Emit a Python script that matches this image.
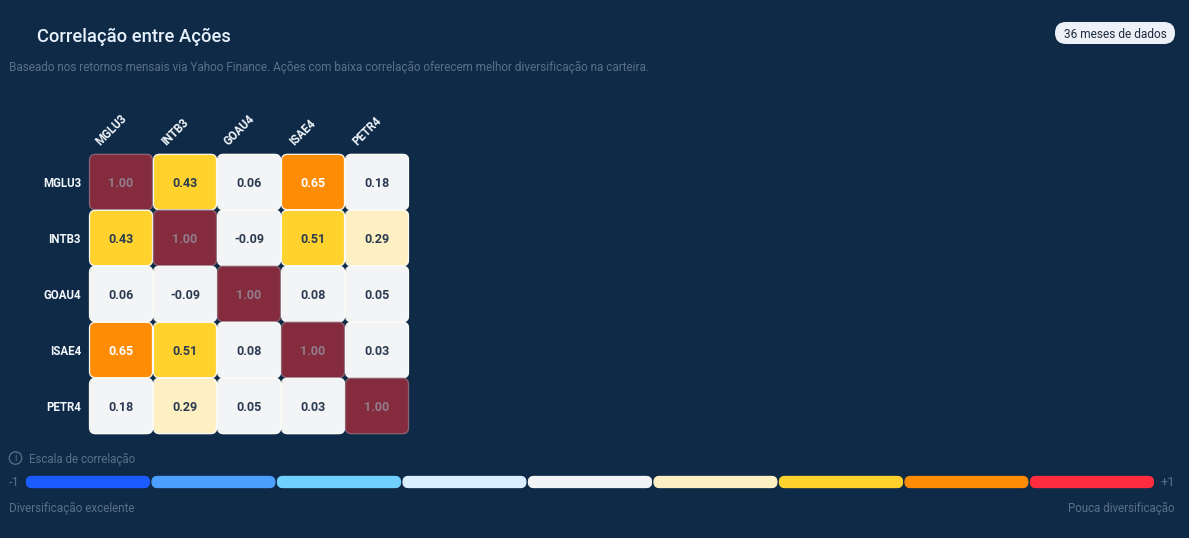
import numpy as np, pandas as pd, seaborn as sns
import matplotlib
matplotlib.use("Agg")
import matplotlib.pyplot as plt
import matplotlib.patches as mp
from matplotlib.colors import ListedColormap, BoundaryNorm
from matplotlib.path import Path
from matplotlib.transforms import ScaledTranslation

tickers = ["MGLU3", "INTB3", "GOAU4", "ISAE4", "PETR4"]
row_mglu3 = [1.00, 0.43, 0.06, 0.65, 0.18]
row_intb3 = [0.43, 1.00, -0.09, 0.51, 0.29]
row_goau4 = [0.06, -0.09, 1.00, 0.08, 0.05]
row_isae4 = [0.65, 0.51, 0.08, 1.00, 0.03]
row_petr4 = [0.18, 0.29, 0.05, 0.03, 1.00]
scale_colors = ["#1a5cff", "#4d9fff", "#70d0ff", "#d9efff", "#f3f4f6",
                "#fff0c4", "#ffd22e", "#ff8c05", "#ff2d3d"]
scale_bounds = [-1, -0.7, -0.5, -0.3, -0.1, 0.2, 0.4, 0.6, 0.8, 1.0001]
diag_color = "#852b3e"

BG = "#0f2a47"
W, H = 1189, 538
sns.set_theme(style="white")
plt.rcParams["font.family"] = ["Roboto", "DejaVu Sans"]
fig = plt.figure(figsize=(W / 100, H / 100), dpi=100, facecolor=BG)

def px_axes(x0, y0, x1, y1, **kw):
    return fig.add_axes([x0 / W, 1 - y1 / H, (x1 - x0) / W, (y1 - y0) / H], **kw)

# Overlay in pixel coordinates, for outlines and captions
ov = px_axes(0, 0, W, H, facecolor="none", zorder=5)
ov.set_xlim(0, W); ov.set_ylim(H, 0); ov.axis("off")

def rrect(x, y, w, h, r):
    return mp.FancyBboxPatch((x + r, y + r), w - 2 * r, h - 2 * r,
                             boxstyle=f"round,pad={r},rounding_size={r}")

# Heatmap
corr = pd.DataFrame([row_mglu3, row_intb3, row_goau4, row_isae4, row_petr4],
                    index=tickers, columns=tickers)
cmap = ListedColormap(scale_colors[:-1] + [diag_color])
norm = BoundaryNorm(scale_bounds, cmap.N)
ax = px_axes(89, 154, 409, 434)
sns.heatmap(corr, ax=ax, cmap=cmap, norm=norm, cbar=False, annot=False)
ax.set_facecolor(BG)
ax.tick_params(length=0)
ax.xaxis.tick_top()
ax.set_xticklabels(tickers, rotation=45, ha="center", va="bottom",
                   fontsize=8.3, fontweight="bold", color="#f2f7fc")
ax.tick_params(axis="x", pad=4.3)
shift = ScaledTranslation(-10 / 100, 0, fig.dpi_scale_trans)
for lab in ax.get_xticklabels():
    lab.set_transform(lab.get_transform() + shift)
ax.set_yticklabels(tickers, rotation=0, fontsize=8.3, fontweight="bold", color="#f2f7fc")
ax.tick_params(axis="y", pad=5.8)
for lab in ax.get_yticklabels():
    lab.set_transform(lab.get_transform() + ScaledTranslation(0, -1.5 / 100, fig.dpi_scale_trans))
ax.set_xlabel(""); ax.set_ylabel("")
for s in ax.spines.values():
    s.set_visible(False)

CW, CH = 64, 56
paths = []
for j, t in enumerate(tickers):
    for i, u in enumerate(tickers):
        x, y = 89 + i * CW, 154 + j * CH
        p = rrect(x + 0.5, y + 0.3, CW - 1, CH - 0.6, 6)
        paths.append(p.get_path())
        v = corr.iloc[j, i]
        diag = i == j
        p.set(facecolor="none", edgecolor="#8b6475" if diag else "#fbfbf6", linewidth=0.9)
        ov.add_patch(p)
        tc = "#927d8f" if diag else ("#ffffff" if v >= 0.6 else "#2a3a50")
        ov.text(x + CW / 2, y + CH / 2 + 1.2, f"{v:.2f}", ha="center", va="center",
                fontsize=9, fontweight="bold", color=tc)
ax.collections[0].set_clip_path(Path.make_compound_path(*paths), ov.transData)

# Correlation scale, one cell per colour
sx0, sx1, sy0, sy1 = 26, 1155.5, 476, 488
sax = px_axes(sx0, sy0, sx1, sy1)
idx = np.arange(len(scale_colors))[None, :]
sns.heatmap(idx, ax=sax, cmap=ListedColormap(scale_colors), cbar=False,
            xticklabels=False, yticklabels=False)
sax.set_facecolor(BG)
sw = (sx1 - sx0) / len(scale_colors)
spaths = []
for k, c in enumerate(scale_colors):
    p = rrect(sx0 + k * sw + 0.4, sy0 + 0.4, sw - 2.4, sy1 - sy0 - 0.8, 5.6)
    spaths.append(p.get_path())
    p.set(facecolor="none", edgecolor=c, linewidth=0.8)
    ov.add_patch(p)
sax.collections[0].set_clip_path(Path.make_compound_path(*spaths), ov.transData)

# Captions
MUTED = "#5a7089"
ov.text(37, 37, "Correlação entre Ações", fontsize=13.2, fontweight="medium",
        color="#e6f1fb", ha="left", va="center")
ov.text(9, 67.3, "Baseado nos retornos mensais via Yahoo Finance. Ações com baixa correlação "
        "oferecem melhor diversificação na carteira.", fontsize=8.45, color=MUTED,
        ha="left", va="center")
ov.add_patch(rrect(1055, 22, 120, 22, 11))
ov.patches[-1].set(facecolor="#eef1f7", edgecolor="none")
ov.text(1115, 34, "36 meses de dados", fontsize=8.6, color="#1c2b3f", ha="center", va="center")
ov.add_patch(mp.Ellipse((15.5, 458), 12.5, 12.5, facecolor="none", edgecolor=MUTED, linewidth=0.9))
ov.text(15.5, 458.3, "i", fontsize=7.5, color=MUTED, ha="center", va="center")
ov.text(29, 459.3, "Escala de correlação", fontsize=8.3, color=MUTED, ha="left", va="center")
ov.text(9, 483, "-1", fontsize=9.3, color=MUTED, ha="left", va="center")
ov.text(1175, 483, "+1", fontsize=9.3, color=MUTED, ha="right", va="center")
ov.text(9, 508, "Diversificação excelente", fontsize=8.4, color=MUTED, ha="left", va="center")
ov.text(1175, 508, "Pouca diversificação", fontsize=8.3, color=MUTED, ha="right", va="center")

fig.savefig("out.png", dpi=100, facecolor=BG)
